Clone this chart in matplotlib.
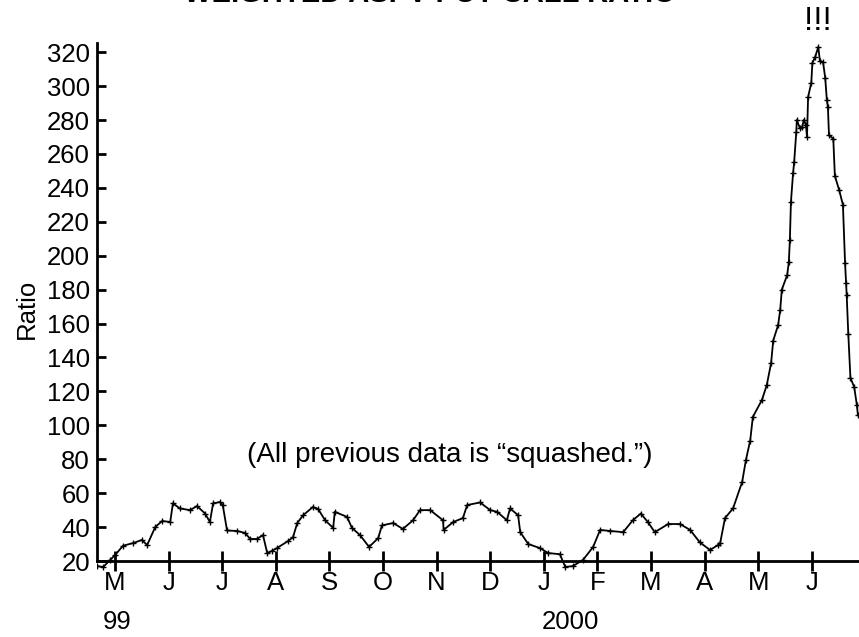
import matplotlib
matplotlib.use("Agg")
import matplotlib.pyplot as plt
import matplotlib.transforms as mtransforms

plt.rcParams['font.family'] = ['Liberation Sans', 'DejaVu Sans']

# Month index: 0 = May 1999 ... 13 = June 2000
month_labels = ["M", "J", "J", "A", "S", "O", "N", "D", "J", "F", "M", "A", "M", "J"]
year_labels = ["99", "2000"]
year_positions = [0.04, 8.49]
y_ticks = list(range(20, 321, 20))

t = [-0.34, -0.22, -0.09, 0.00, 0.15, 0.34, 0.50, 0.60, 0.75, 0.88, 1.03, 1.08,
     1.21, 1.40, 1.53, 1.68, 1.77, 1.83, 1.96, 2.01, 2.09, 2.28, 2.43, 2.52,
     2.65, 2.76, 2.84, 2.93, 3.02, 3.23, 3.32, 3.40, 3.51, 3.69, 3.79, 3.92,
     4.07, 4.10, 4.33, 4.42, 4.57, 4.74, 4.91, 4.98, 5.19, 5.37, 5.56, 5.69,
     5.88, 6.12, 6.13, 6.31, 6.49, 6.57, 6.81, 7.00, 7.13, 7.31, 7.37, 7.52,
     7.56, 7.71, 7.93, 8.08, 8.30, 8.40, 8.54, 8.73, 8.92, 9.05, 9.24, 9.48,
     9.66, 9.81, 9.94, 10.07, 10.32, 10.54, 10.73, 10.91, 11.10, 11.25, 11.29,
     11.38, 11.53, 11.70, 11.77, 11.85, 11.90, 12.07, 12.16, 12.24, 12.28,
     12.37, 12.41, 12.44, 12.54, 12.57, 12.59, 12.61, 12.65, 12.67, 12.71,
     12.72, 12.78, 12.82, 12.85, 12.89, 12.91, 12.93, 12.99, 13.01, 13.06,
     13.12, 13.15, 13.21, 13.25, 13.28, 13.30, 13.32, 13.40, 13.43, 13.51,
     13.58, 13.62, 13.64, 13.65, 13.68, 13.72, 13.79, 13.84, 13.86]

ratio = [17, 16.5, 20.6, 23.5, 29, 30.6, 32.4, 29.4, 40, 43.6, 43, 54,
         51, 50, 52.4, 48, 43, 54, 54.8, 53, 38, 37.7, 36.5, 33,
         33, 35.3, 24.7, 26, 27.6, 31.8, 34, 42.4, 47, 51.8, 50.6, 44,
         39.5, 49, 46, 39.5, 35.3, 28.3, 33.5, 41, 42.4, 38.9, 44, 50,
         50, 44, 38.3, 43, 45.3, 53, 54.5, 50, 49, 44, 51, 47,
         37, 30, 27.6, 24.7, 24, 16.5, 17, 20.6, 28.3, 38.3, 37.7, 37,
         44, 48, 43, 37, 41.8, 41.8, 38.3, 31, 26.5, 29.4, 30.6,
         45.3, 51, 66.6, 79.5, 91, 105, 115, 123.8, 136.7, 150,
         159, 168, 180, 188.6, 196, 209, 231.6, 248.7, 255, 273,
         280, 275, 276, 280, 277, 270, 293.5, 302, 313.6, 317,
         323, 315, 314, 304.7, 291.8, 287.6, 271, 269, 247, 238.7,
         230, 195.7, 184, 177, 154, 128, 122.6, 112, 106]

fig = plt.figure(figsize=(8.59, 6.37), dpi=100)
ax = fig.add_axes([97/859, 1 - 575/637, 1 - 97/859, (575 - 43)/637])

ax.plot(t, ratio, color="black", lw=1.3, marker="+", ms=5, mew=1.0)

ax.set_xlim(-0.336, 13.88)
ax.set_ylim(11.75, 325.4)

for s in ["top", "right"]:
    ax.spines[s].set_visible(False)
ax.spines["bottom"].set_position(("data", 20))
ax.spines["left"].set_bounds(20, 325.4)
ax.spines["bottom"].set_linewidth(2)
ax.spines["left"].set_linewidth(2)

ax.set_xticks(range(len(month_labels)))
ax.set_xticklabels(month_labels)
ax.set_yticks(y_ticks)
ax.tick_params(axis="x", direction="inout", length=15, width=2, labelsize=18.5, pad=0)
ax.tick_params(axis="y", direction="in", length=6.5, width=2, labelsize=18.5, pad=5)

ax.set_ylabel("Ratio", fontsize=18.5, labelpad=6)

trans = mtransforms.blended_transform_factory(ax.transData, fig.transFigure)
for pos, lab in zip(year_positions, year_labels):
    ax.text(pos, 1 - 629/637, lab, transform=trans, ha="center", va="baseline",
            fontsize=18.5, clip_on=False)

ax.text(6.25, 82.5, "(All previous data is \u201csquashed.\u201d)", ha="center",
        va="center", fontsize=20)
ax.text(13.12, 1 - 22/637, "!!!", transform=trans, ha="center", va="center",
        fontsize=24, clip_on=False)

fig.text(430/859, 1 - 2/637, "WEIGHTED ASPV PUT-CALL RATIO", ha="center",
         va="baseline", fontsize=21, fontweight="bold",
         family=["Liberation Sans Narrow", "Liberation Sans", "DejaVu Sans"])

fig.savefig("out.png", dpi=100)
